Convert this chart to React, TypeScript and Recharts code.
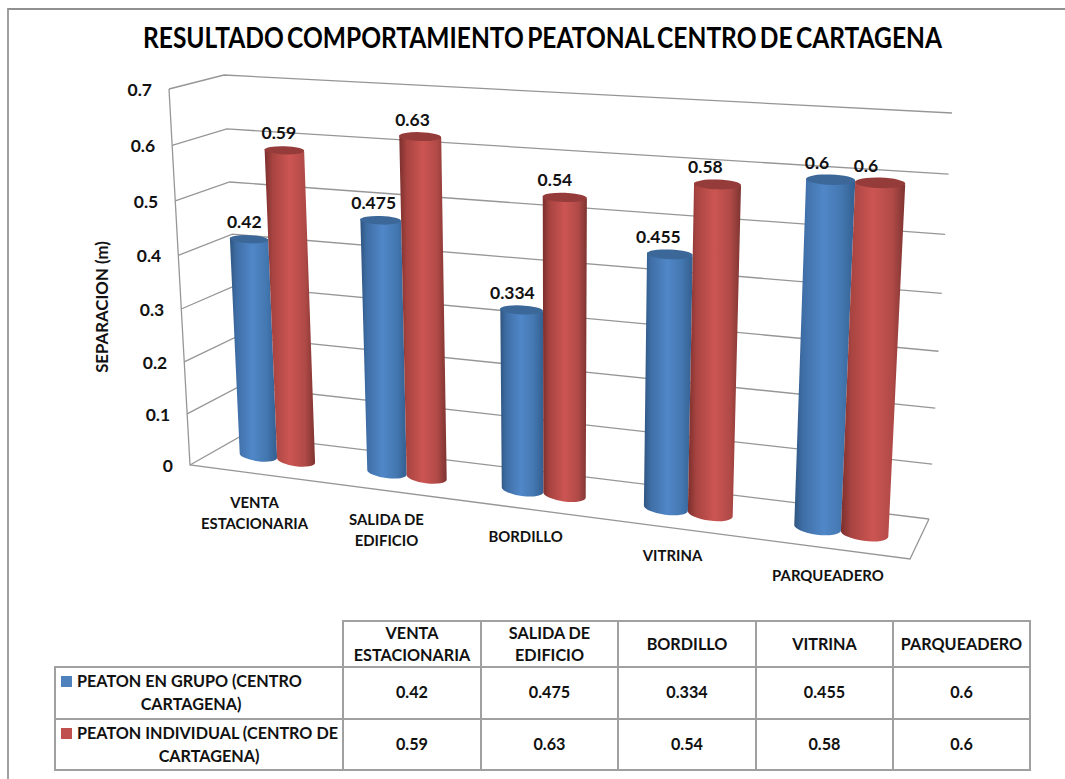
import React from "react";
import { BarChart, Bar, XAxis, YAxis, CartesianGrid, LabelList } from "recharts";

const CATEGORIES = ["VENTA ESTACIONARIA", "SALIDA DE EDIFICIO", "BORDILLO", "VITRINA", "PARQUEADERO"];
const GRUPO = [0.42, 0.475, 0.334, 0.455, 0.6];
const INDIVIDUAL = [0.59, 0.63, 0.54, 0.58, 0.6];
const Y_TICKS = [0, 0.1, 0.2, 0.3, 0.4, 0.5, 0.6, 0.7];
const GRUPO_NAME = ["PEATON EN GRUPO (CENTRO", "CARTAGENA)"];
const INDIVIDUAL_NAME = ["PEATON INDIVIDUAL (CENTRO DE", "CARTAGENA)"];

const chartData = CATEGORIES.map((name, i) => ({ name, grupo: GRUPO[i], individual: INDIVIDUAL[i] }));

const FONT = "Lato, 'Open Sans', sans-serif";
const TEXT = "#111";
const LINE = "#969696";

// flat plot rect handed to recharts, everything gets projected from it afterwards
const PLOT = { left: 190, top: 89, width: 720, height: 376 };

type Pt = [number, number];

// unit square -> quad, corners: top-left, top-right, bottom-right, bottom-left
function quad(p0: Pt, p1: Pt, p2: Pt, p3: Pt) {
  const dx1 = p1[0] - p2[0], dx2 = p3[0] - p2[0], dx3 = p0[0] - p1[0] + p2[0] - p3[0];
  const dy1 = p1[1] - p2[1], dy2 = p3[1] - p2[1], dy3 = p0[1] - p1[1] + p2[1] - p3[1];
  const det = dx1 * dy2 - dx2 * dy1;
  const g = (dx3 * dy2 - dx2 * dy3) / det;
  const h = (dx1 * dy3 - dx3 * dy1) / det;
  const a = p1[0] - p0[0] + g * p1[0], b = p3[0] - p0[0] + h * p3[0];
  const d = p1[1] - p0[1] + g * p1[1], e = p3[1] - p0[1] + h * p3[1];
  return (u: number, t: number): Pt => {
    const w = g * u + h * t + 1;
    return [(a * u + b * t + p0[0]) / w, (d * u + e * t + p0[1]) / w];
  };
}

const front = quad([169, 89], [934, 129], [910, 559], [190, 465]);
const back = quad([224, 75], [952, 113], [929, 519], [243, 435]);
const mid = quad([197, 85], [943, 124], [921, 541], [215, 450]);

const toU = (x: number) => (x - PLOT.left) / PLOT.width;
const toT = (y: number) => (y - PLOT.top) / PLOT.height;
const pts = (list: Pt[]) => list.map((p) => p.join(",")).join(" ");

function WallLine(props: any) {
  const t = toT(props.y1);
  const wall = [front(0, t), back(0, t), back(1, t)];
  const isFloor = t > 0.999;
  return (
    <g>
      <polyline points={pts(wall)} fill="none" stroke={LINE} strokeWidth={1.3} />
      {isFloor && (
        <polyline points={pts([front(0, 0), front(0, 1), front(1, 1), back(1, 1)])} fill="none" stroke={LINE} strokeWidth={1.3} />
      )}
    </g>
  );
}

function YTick({ y, payload }: any) {
  const [px, py] = front(0, toT(y));
  return (
    <text x={px - 17} y={py + 1} dy={6} textAnchor="end" fontFamily={FONT} fontWeight={700} fontSize={17.5} fill={TEXT}>
      {payload.value}
    </text>
  );
}

function XTick({ x, payload }: any) {
  const u = toU(x);
  const [px, py] = mid(u, 1);
  const words = String(payload.value).split(" ");
  const lines = words.length > 1 ? [words.slice(0, -1).join(" "), words[words.length - 1]] : words;
  return (
    <text textAnchor="middle" fontFamily={FONT} fontWeight={700} fontSize={14.9} fill={TEXT}>
      {lines.map((line, i) => (
        <tspan key={line} x={px - 24 + 12 * u} y={py + 50 + i * 21}>
          {line}
        </tspan>
      ))}
    </text>
  );
}

function Cylinder({ x, y, width, height, fill, cap }: any) {
  const u0 = toU(x), u1 = toU(x + width), t0 = toT(y), t1 = toT(y + height);
  const tl = mid(u0, t0), tr = mid(u1, t0), bl = mid(u0, t1), br = mid(u1, t1);
  const topRx = Math.hypot(tr[0] - tl[0], tr[1] - tl[1]) / 2;
  const botRx = Math.hypot(br[0] - bl[0], br[1] - bl[1]) / 2;
  // the caps sit flatter than the wall slope in the original
  const topRot = (Math.atan2(tr[1] - tl[1], tr[0] - tl[0]) * 90) / Math.PI;
  const botRot = (Math.atan2(br[1] - bl[1], br[0] - bl[0]) * 180) / Math.PI;
  const botRy = botRx * 0.3;
  const topRy = topRx * 0.21;
  const body = `M${tl} L${bl} A${botRx} ${botRy} ${botRot} 0 0 ${br} L${tr} Z`;
  return (
    <g>
      <path d={body} fill={fill} />
      <ellipse
        cx={(tl[0] + tr[0]) / 2}
        cy={(tl[1] + tr[1]) / 2}
        rx={topRx}
        ry={topRy}
        fill={cap}
        transform={`rotate(${topRot} ${(tl[0] + tr[0]) / 2} ${(tl[1] + tr[1]) / 2})`}
      />
    </g>
  );
}

function ValueLabel({ x, y, width, value }: any) {
  const u = toU(x + width / 2);
  const [px, py] = mid(u, toT(y));
  return (
    <text x={px - 4 - 11 * u} y={py - 17} dy={6} textAnchor="middle" fontFamily={FONT} fontWeight={700} fontSize={17.5} fill={TEXT}>
      {value}
    </text>
  );
}

const cellStyle: React.CSSProperties = {
  border: `2px solid #a0a0a0`,
  padding: 0,
  textAlign: "center",
  verticalAlign: "middle",
  lineHeight: "23px",
};
const headCell: React.CSSProperties = { ...cellStyle, lineHeight: "22px" };
const valueCell: React.CSSProperties = { ...cellStyle, paddingBottom: 3 };

function SeriesCell({ lines, color, center }: { lines: string[]; color: string; center: number }) {
  return (
    <td style={{ ...cellStyle, textAlign: "left", paddingBottom: 2 }}>
      <div style={{ whiteSpace: "nowrap", paddingLeft: 5 }}>
        <span style={{ display: "inline-block", width: 11, height: 11, background: color, marginRight: 5 }} />
        {lines[0]}
      </div>
      <div style={{ width: center * 2, textAlign: "center" }}>{lines[1]}</div>
    </td>
  );
}

export default function App() {
  return (
    <div style={{ position: "absolute", left: 0, top: 0, width: 1065, height: 779, background: "#fff", overflow: "hidden" }}>
      <div style={{ position: "absolute", left: 7, top: 8, width: 1100, height: 800, borderLeft: "2px solid #a0a0a0", borderTop: "2px solid #909090" }} />
      <BarChart
        width={1065}
        height={779}
        data={chartData}
        barGap={0}
        barCategoryGap="20%"
        margin={{ left: 130, top: PLOT.top, right: 1065 - PLOT.left - PLOT.width, bottom: 264 }}
      >
        <defs>
          <linearGradient id="blueBody" x1="0" y1="0" x2="1" y2="0">
            <stop offset="0" stopColor="#2f5580" />
            <stop offset="0.14" stopColor="#3f6ea6" />
            <stop offset="0.48" stopColor="#5087c8" />
            <stop offset="0.78" stopColor="#4377b0" />
            <stop offset="1" stopColor="#345f90" />
          </linearGradient>
          <linearGradient id="redBody" x1="0" y1="0" x2="1" y2="0">
            <stop offset="0" stopColor="#7b2f2d" />
            <stop offset="0.16" stopColor="#a84441" />
            <stop offset="0.5" stopColor="#cc5552" />
            <stop offset="0.8" stopColor="#b04a47" />
            <stop offset="1" stopColor="#7d3431" />
          </linearGradient>
        </defs>
        <CartesianGrid vertical={false} horizontal={(p: any) => <WallLine key={p.key ?? p.y1} {...p} />} />
        <XAxis dataKey="name" height={50} axisLine={false} tickLine={false} interval={0} tick={<XTick />} />
        <YAxis width={60} domain={[0, 0.7]} ticks={Y_TICKS} interval={0} axisLine={false} tickLine={false} tick={<YTick />} />
        <Bar dataKey="grupo" isAnimationActive={false} shape={(p: any) => <Cylinder {...p} fill="url(#blueBody)" cap="#3b6899" />}>
          <LabelList dataKey="grupo" content={<ValueLabel />} />
        </Bar>
        <Bar dataKey="individual" isAnimationActive={false} shape={(p: any) => <Cylinder {...p} fill="url(#redBody)" cap="#953c3a" />}>
          <LabelList dataKey="individual" content={<ValueLabel />} />
        </Bar>
      </BarChart>

      <svg width={1065} height={779} style={{ position: "absolute", left: 0, top: 0, pointerEvents: "none" }}>
        <text x={542.5} y={48} textAnchor="middle" textLength={799} lengthAdjust="spacingAndGlyphs" wordSpacing={-3} fontFamily={FONT} fontWeight={700} fontSize={28} fill="#000">
          RESULTADO COMPORTAMIENTO PEATONAL CENTRO DE CARTAGENA
        </text>
        <text transform="translate(108 307) rotate(-90)" textAnchor="middle" fontFamily={FONT} fontWeight={700} fontSize={16.8} fill={TEXT}>
          SEPARACION (m)
        </text>
      </svg>

      <table
        style={{
          position: "absolute",
          left: 54,
          top: 620,
          width: 975,
          height: 150,
          borderCollapse: "collapse",
          tableLayout: "fixed",
          fontFamily: FONT,
          fontWeight: 700,
          fontSize: 16.2,
          color: TEXT,
        }}
      >
        <colgroup>
          <col style={{ width: 288 }} />
          <col style={{ width: 138 }} />
          <col style={{ width: 137 }} />
          <col style={{ width: 138 }} />
          <col style={{ width: 137 }} />
          <col style={{ width: 137 }} />
        </colgroup>
        <tbody>
          <tr style={{ height: 46 }}>
            <td style={{ border: "none", borderBottom: "2px solid #a0a0a0" }} />
            {CATEGORIES.map((c) => (
              <td key={c} style={headCell}>
                {c.split(" ").length > 1 ? (
                  <>
                    {c.slice(0, c.lastIndexOf(" "))}
                    <br />
                    {c.slice(c.lastIndexOf(" ") + 1)}
                  </>
                ) : (
                  c
                )}
              </td>
            ))}
          </tr>
          <tr style={{ height: 52 }}>
            <SeriesCell lines={GRUPO_NAME} color="#4f81bd" center={135} />
            {GRUPO.map((v, i) => (
              <td key={i} style={valueCell}>
                {v}
              </td>
            ))}
          </tr>
          <tr style={{ height: 51 }}>
            <SeriesCell lines={INDIVIDUAL_NAME} color="#c0504d" center={153} />
            {INDIVIDUAL.map((v, i) => (
              <td key={i} style={valueCell}>
                {v}
              </td>
            ))}
          </tr>
        </tbody>
      </table>
    </div>
  );
}
